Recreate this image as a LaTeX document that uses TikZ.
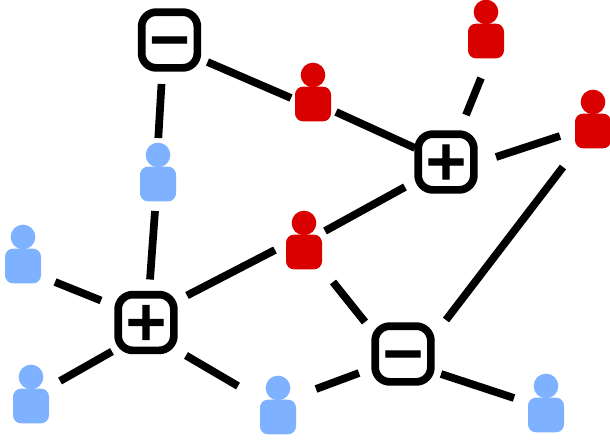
\documentclass[tikz,border=0pt]{standalone}
\usepackage{fontspec}
\setmainfont{DejaVu Sans}
\newfontfamily\signfont[FakeBold=2]{DejaVu Sans Bold}
\definecolor{pblue}{HTML}{7EB1FF}
\definecolor{pred}{HTML}{D90000}
\tikzset{
  x=0.75pt,y=-0.75pt,
  signbox/.style={draw=black,line width=5.8pt,rounded corners=11pt,minimum width=41.8pt,minimum height=41.8pt,inner sep=0pt,fill=white,font=\fontsize{41}{41}\signfont},
  body/.style={rectangle,rounded corners=6pt,minimum width=27pt,minimum height=26pt,inner sep=0pt,draw=none},
  head/.style={circle,minimum size=18.5pt,inner sep=0pt,draw=none},
  link/.style={draw=black,line width=5.8pt,line cap=butt}
}
\newcommand{\person}[4]{%
  \node[body,fill=#4] (#1) at (#2,#3+29) {};
  \node[head,fill=#4] (#1head) at (#2,#3) {};
}
\newcommand{\signtext}[1]{\raisebox{-0.314em}[0pt][0pt]{#1}}
\newcommand{\link}[6]{\draw[link] ([shift={(#2,#3)}]#1.center) -- ([shift={(#5,#6)}]#4.center);}
\begin{document}
\begin{tikzpicture}
\useasboundingbox (0,0) rectangle (610,443);
\node[signbox] (A) at (169.5,40) {\signtext{−}};
\node[signbox] (B) at (446,162) {\signtext{+}};
\node[signbox] (C) at (146,322.5) {\signtext{+}};
\node[signbox] (D) at (403,354) {\signtext{−}};
\person{bA}{158}{155}{pblue}
\person{bB}{23}{237}{pblue}
\person{bC}{31}{377}{pblue}
\person{bD}{278}{388}{pblue}
\person{bE}{546}{386}{pblue}
\person{rA}{313}{75}{pred}
\person{rB}{486}{12}{pred}
\person{rC}{593}{102}{pred}
\person{rD}{304}{223}{pred}
\link{A}{-8}{44}{bAhead}{0.3}{-17}
\link{A}{38}{22}{rAhead}{-22}{23}
\link{rAhead}{23}{37}{B}{-31}{-14}
\link{rBhead}{-5}{66}{B}{20}{-47}
\link{B}{50}{-5}{rChead}{-33}{34}
\link{B}{-41}{25}{rDhead}{21}{8}
\link{rChead}{-30}{65}{D}{43}{-34}
\link{rDhead}{29}{59}{D}{-38}{-32}
\link{rDhead}{-29}{27}{C}{41}{-27}
\link{bAhead}{-3}{56}{C}{4}{-43}
\link{bBhead}{32}{45}{C}{-45}{-22}
\link{bChead}{29}{4}{C}{-34}{29}
\link{C}{40}{33}{bDhead}{-40}{-2}
\link{bDhead}{38}{1}{D}{-44}{19}
\link{D}{38}{20}{bEhead}{-32}{12}
\end{tikzpicture}
\end{document}
